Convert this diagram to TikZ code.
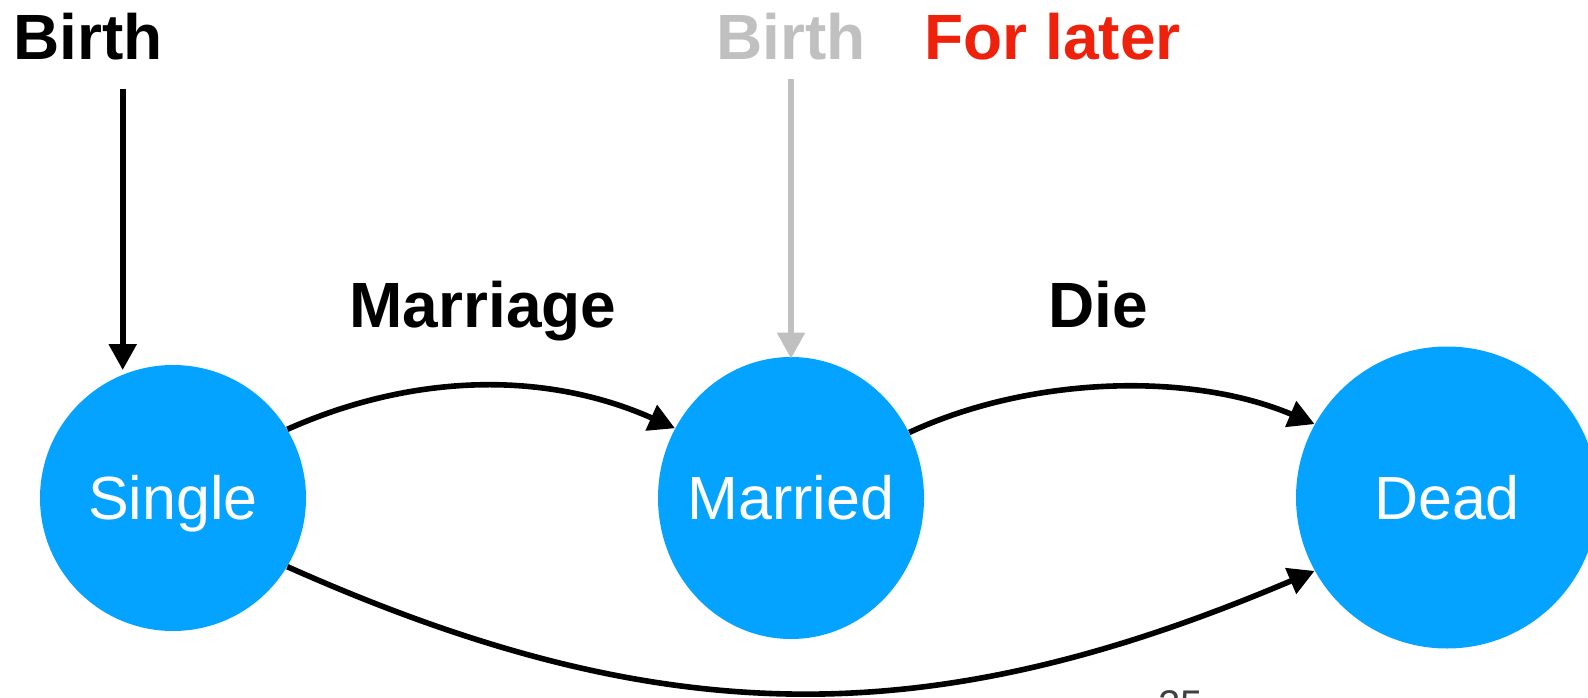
\documentclass[tikz,border=0pt]{standalone}
\usepackage{fontspec}
\setmainfont{Liberation Sans}
\usetikzlibrary{arrows.meta,shapes.geometric}
\definecolor{stateblue}{RGB}{3,163,255}
\definecolor{laterred}{RGB}{238,34,12}
\definecolor{fadegray}{RGB}{192,192,192}

\begin{document}
\begin{tikzpicture}[x=0.5pt,y=0.5pt,
  state/.style={fill=stateblue, draw=none, inner sep=0pt, text=white,
    font=\fontsize{30.5}{36}\selectfont, text height=21.8pt, text depth=0pt},
  heading/.style={anchor=base, inner sep=0pt,
    font=\fontsize{32}{38}\selectfont\bfseries},
  trans/.style={line width=2.8pt, -{Triangle[length=13pt,width=13.5pt]}},
]
\useasboundingbox (0,0) rectangle (1588,697);

% states
\node[state, circle, minimum size=133pt] (single) at (173,199) {\makebox[0pt]{Single}};
\node[state, ellipse, minimum width=133pt, minimum height=141pt] (married) at (791,199) {\makebox[0pt]{Married}};
\node[state, circle, minimum size=151pt] (dead) at (1447,199.5) {\makebox[0pt]{Dead}};

% labels
\node[heading] (birth) at (88,637) {Birth};
\node[heading, text=fadegray] (birthlater) at (791,637) {Birth};
\node[heading, text=laterred] (forlater) at (1052.5,637) {For later};
\node[heading] (marriage) at (483,370) {Marriage};
\node[heading] (die) at (1098.5,370) {Die};
\node[anchor=base, inner sep=0pt, font=\fontsize{20}{24}\selectfont, text=black!75] (page) at (1180.5,-21) {25};

% transitions
\coordinate (birthtip) at (122.7,327);
\draw[trans, shorten <=14pt] (birth.south -| birthtip) -- (birthtip);
\draw[trans, color=fadegray, shorten <=9pt, shorten >=-1pt] (birthlater.south) -- (married.north);
\draw[trans] (single.31) .. controls +(24:140) and +(156:140) .. (married.149);
\draw[trans] (married.29) .. controls +(25:134) and +(157:134) .. (dead.151);
\draw[trans] (single.-31) .. controls +(-24:415) and +(203:415) .. (dead.209);
\end{tikzpicture}
\end{document}
